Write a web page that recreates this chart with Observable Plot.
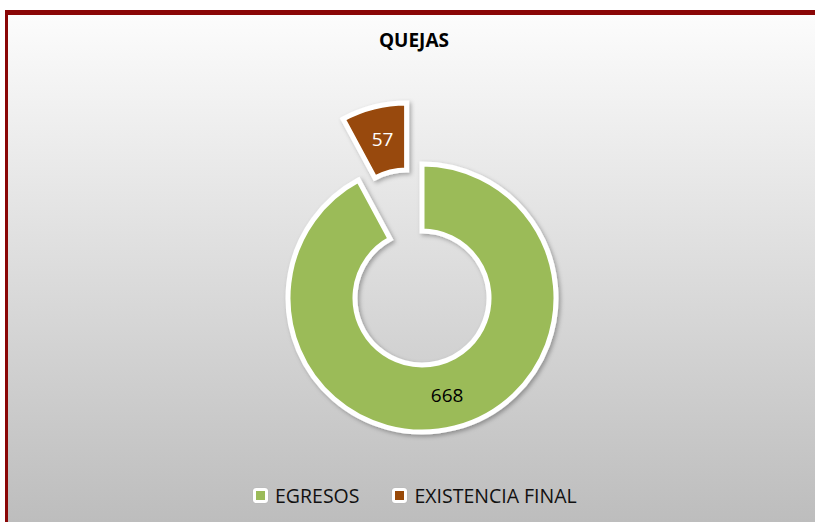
<!DOCTYPE html>
<html>
<head>
<meta charset="utf-8">
<script src="https://cdn.jsdelivr.net/npm/d3@7"></script>
<script src="https://cdn.jsdelivr.net/npm/@observablehq/plot@0.6"></script>
<style>
  html, body { margin: 0; padding: 0; width: 815px; height: 522px; overflow: hidden; background: #ffffff; }
  #frame {
    position: absolute; left: 5px; top: 10px; width: 810px; height: 512px;
    box-sizing: border-box;
    border-top: 5px solid #8a0606; border-left: 3px solid #8a0606;
    background: linear-gradient(to bottom, #fcfcfc 0%, #bdbdbd 100%);
  }
  #title {
    position: absolute; left: 8px; width: 812px; top: 27px; text-align: center;
    font-family: "Open Sans", sans-serif; font-weight: 700; font-size: 19px; color: #000;
  }
  #chart { position: absolute; left: 0; top: 0; }
  #legend {
    position: absolute; left: 253px; top: 482px; display: flex; align-items: center;
    font-family: "Open Sans", sans-serif; font-size: 19.5px; color: #111;
  }
  .item { display: flex; align-items: center; margin-right: 33px; }
  .box { width: 15px; height: 15px; background: #fff; border-radius: 3px; display: flex; align-items: center; justify-content: center; margin-right: 7px; box-shadow: 0 0 1px rgba(0,0,0,0.2); }
  .sw { width: 9px; height: 9px; }
</style>
</head>
<body>
<div id="frame"></div>
<div id="chart"></div>
<div id="title">QUEJAS</div>
<div id="legend"></div>
<script>
const categories = ["EGRESOS", "EXISTENCIA FINAL"];
const values = [668, 57];
const colors = ["#9bbb59", "#984807"];
const labelColors = ["#000000", "#ffffff"];
const explode = [0, 0.47];

const data = categories.map((c, i) => ({category: c, value: values[i], explode: explode[i]}));
const pie = d3.pie().sort(null).value(d => d.value)(data);
const HOLE = 0.5;
const labels = pie.map(p => {
  const a = (p.startAngle + p.endAngle) / 2;
  const r = (1 + HOLE) / 2 + p.data.explode;
  return {category: p.data.category, value: p.data.value, x: r * Math.sin(a), y: r * Math.cos(a)};
});

const color = d3.scaleOrdinal(categories, colors);
const textColor = d3.scaleOrdinal(categories, labelColors);

function donut(index, scales) {
  const {x, y} = scales;
  const R = x(1) - x(0);
  const cx = x(0), cy = y(0);
  const g = d3.create("svg:g");
  const defs = g.append("defs");
  defs.append("filter").attr("id", "shadow").attr("x", "-20%").attr("y", "-20%").attr("width", "140%").attr("height", "140%")
    .append("feDropShadow").attr("dx", 2).attr("dy", 2).attr("stdDeviation", 2)
    .attr("flood-color", "#000").attr("flood-opacity", 0.3);
  const arc = d3.arc().innerRadius(R * HOLE).outerRadius(R);
  g.selectAll("path").data(pie).join("path")
    .attr("transform", d => {
      const a = (d.startAngle + d.endAngle) / 2;
      const off = d.data.explode * R;
      return `translate(${cx + Math.sin(a) * off},${cy - Math.cos(a) * off})`;
    })
    .attr("d", arc)
    .attr("fill", d => color(d.data.category))
    .attr("stroke", "#ffffff")
    .attr("stroke-width", 5)
    .attr("stroke-linejoin", "miter")
    .attr("filter", "url(#shadow)");
  return g.node();
}

const plot = Plot.plot({
  width: 815,
  height: 522,
  marginLeft: 288,
  marginRight: 259,
  marginTop: 164,
  marginBottom: 90,
  style: {background: "transparent", overflow: "visible"},
  x: {domain: [-1, 1], axis: null},
  y: {domain: [-1, 1], axis: null},
  marks: [
    donut,
    Plot.text(labels, {
      x: "x", y: "y", text: d => String(d.value),
      fill: d => textColor(d.category),
      fontSize: 19, fontFamily: "Open Sans, sans-serif"
    })
  ]
});
document.getElementById("chart").appendChild(plot);

const legend = document.getElementById("legend");
categories.forEach((c, i) => {
  const item = document.createElement("div");
  item.className = "item";
  const box = document.createElement("div");
  box.className = "box";
  const sw = document.createElement("div");
  sw.className = "sw";
  sw.style.background = colors[i];
  box.appendChild(sw);
  const t = document.createElement("span");
  t.textContent = c;
  item.appendChild(box);
  item.appendChild(t);
  legend.appendChild(item);
});
</script>
</body>
</html>
